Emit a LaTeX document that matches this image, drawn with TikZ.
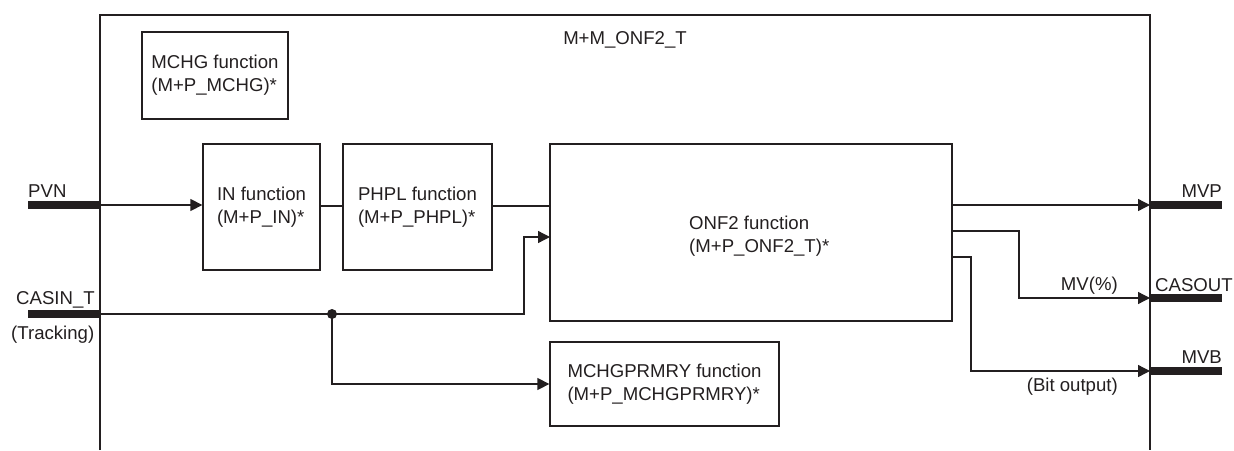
\documentclass[tikz,border=0pt]{standalone}
\usepackage{fontspec}
\setmainfont{Liberation Sans}
\usetikzlibrary{arrows.meta}
\definecolor{ink}{HTML}{231F20}
\tikzset{
  ln/.style={draw=ink, line width=1.3pt},
  arr/.style={ln, -{Triangle[length=12pt,width=12pt]}},
  bar/.style={draw=ink, line width=8pt},
  box/.style={draw=ink, line width=1.3pt, rectangle, inner sep=0pt, align=left, text=ink},
  lbl/.style={text=ink, inner sep=0pt},
}
\begin{document}
\begin{tikzpicture}[x=1pt,y=-1pt,font=\fontsize{18.6}{23}\selectfont]
\useasboundingbox (0,0) rectangle (1234,450);
% outer frame (open at bottom)
\draw[ln] (100,450) -- (100,15) -- (1150,15) -- (1150,450);
\node[lbl, anchor=base] (title) at (625,44) {M+M\_ONF2\_T};
% function blocks
\node[box, minimum width=146pt, minimum height=87pt] (mchg) at (215,75.5) {MCHG function\\(M+P\_MCHG)*};
\node[box, minimum width=117pt, minimum height=126pt] (in) at (261.5,207) {IN function\\(M+P\_IN)*};
\node[box, minimum width=149pt, minimum height=126pt] (phpl) at (417.5,207) {PHPL function\\(M+P\_PHPL)*};
\node[box, minimum width=402pt, minimum height=177pt] (onf) at (751,232.5) {};
\node[lbl, align=left, anchor=base west] (onfT) at (689,252) {ONF2 function\\(M+P\_ONF2\_T)*};
\node[box, minimum width=229pt, minimum height=84pt] (mchgp) at (664.5,384) {MCHGPRMRY function\\(M+P\_MCHGPRMRY)*};
% input ports
\coordinate (pvnL) at (28,205);
\coordinate (pvnR) at (100,205);
\coordinate (casL) at (28,314);
\coordinate (casR) at (100,314);
\draw[bar] (pvnL) -- (pvnR);
\draw[bar] (casL) -- (casR);
\node[lbl, anchor=base west] (pvnT) at (28,197) {PVN};
\node[lbl, anchor=base west] (casT) at (16,304) {CASIN\_T};
\node[lbl, anchor=base west] (trkT) at (11,339) {(Tracking)};
% output ports
\coordinate (mvpL) at (1150,205);
\coordinate (mvpR) at (1222,205);
\coordinate (casoL) at (1150,298);
\coordinate (casoR) at (1222,298);
\coordinate (mvbL) at (1150,371);
\coordinate (mvbR) at (1222,371);
\draw[bar] (mvpL) -- (mvpR);
\draw[bar] (casoL) -- (casoR);
\draw[bar] (mvbL) -- (mvbR);
\node[lbl, anchor=base east] (mvpT) at (1222,197) {MVP};
\node[lbl, anchor=base west] (casoT) at (1155,291) {CASOUT};
\node[lbl, anchor=base east] (mvbT) at (1222,363) {MVB};
\node[lbl, anchor=base east] (mvT) at (1118,290) {MV(\%)};
\node[lbl, anchor=base east] (bitT) at (1118,391) {(Bit output)};
% connectors
\draw[arr] (pvnR) -- (pvnR -| in.west);
\draw[ln] (in.east |- 0,206) -- (phpl.west |- 0,206);
\draw[ln] (phpl.east |- 0,206) -- (onf.west |- 0,206);
\coordinate (dot) at (332,314);
\coordinate (casUp) at (524,314);
\coordinate (onfIn2) at (550,237);
\draw[arr] (casR) -- (dot) -- (casUp) |- (onfIn2);
\draw[arr] (dot) |- (mchgp.west);
\fill[ink] (dot) circle (5pt);
\coordinate (o1) at (952,205);
\coordinate (o2) at (952,231);
\coordinate (o3) at (952,257);
\coordinate (mvx) at (1019,298);
\coordinate (bitx) at (971,371);
\draw[arr] (o1) -- (mvpL);
\draw[arr] (o2) -| (mvx) -- (casoL);
\draw[arr] (o3) -| (bitx) -- (mvbL);
\end{tikzpicture}
\end{document}
